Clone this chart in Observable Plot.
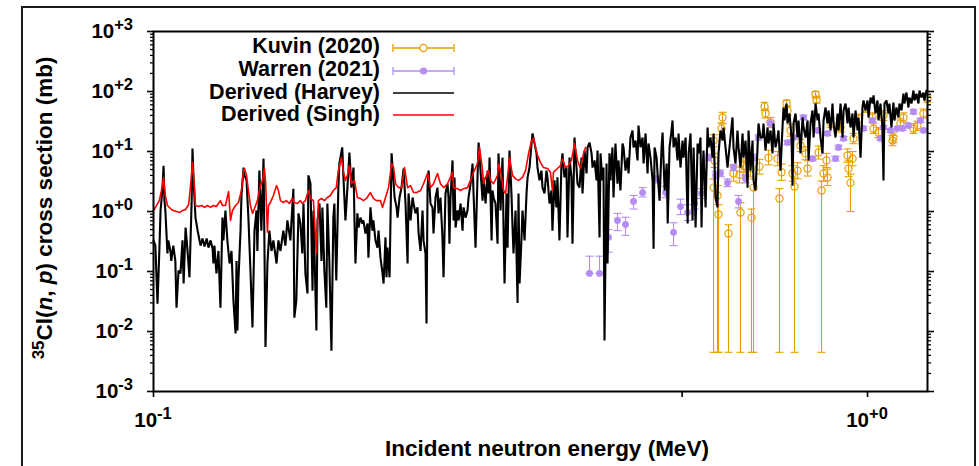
<!DOCTYPE html>
<html><head><meta charset="utf-8">
<script src="https://cdn.jsdelivr.net/npm/d3@7"></script>
<script src="https://cdn.jsdelivr.net/npm/@observablehq/plot@0.6"></script>
<style>
body{margin:0;background:#fff;}
#wrap{position:relative;width:979px;height:466px;overflow:hidden;background:#fff;}
#border{position:absolute;left:21px;top:6px;width:951px;height:600px;border:2px solid #1a1a1a;z-index:2;pointer-events:none;}
#chart svg{display:block;}
</style></head><body>
<div id="wrap"><div id="chart"></div><div id="border"></div></div>
<script>
// ---- data (energy in MeV, cross section in mb) ----
const xDomain = [0.1, 1.2134];
const yDomain = [1e-3, 1e3];
const yMajor = [1e-3, 1e-2, 1e-1, 1, 10, 100, 1000];
const yExp = ["-3", "-2", "-1", "+0", "+1", "+2", "+3"];
const xMajor = [0.1, 1];
const xExp = ["-1", "+0"];
const xMinor = [0.55];
const seriesNames = ["Kuvin (2020)", "Warren (2021)", "Derived (Harvey)", "Derived (Singh)"];

// Kuvin (2020): [E, xs, low, high]
const kuvin = [
[0.6087,2.5,0.0045,3.5],[0.6087,15.2,12,19],[0.6106,7.1,5.4,9.3],[0.6165,1.85,0.0045,2.7],
[0.6185,0.89,0.0045,1.3],[0.6245,24.2,19,30],[0.6265,36.9,29,45],[0.6387,0.43,0.0045,0.6],
[0.6491,4.3,3.2,5.8],[0.6618,4.1,3.0,5.5],[0.6639,0.96,0.0045,1.4],[0.6704,5.8,4.5,7.5],
[0.6748,5.4,4.0,7.0],[0.6857,5.2,3.8,7.0],[0.6879,0.79,0.0045,1.1],[0.6924,2.5,0.0045,3.5],
[0.7059,5.6,4.2,7.4],[0.7174,56,48,66],[0.7197,43,36,51],[0.7267,7.9,6.0,10.5],
[0.7314,30.4,25,37],[0.7481,7.6,5.8,10],[0.7528,1.65,0.0045,2.4],[0.7578,4.5,3.3,6.2],
[0.7701,63,55,72],[0.7726,48,40,57],[0.7801,22.4,18,28],[0.7852,4.3,3.2,5.8],
[0.7903,2.6,0.0045,3.6],[0.7980,4.8,3.5,6.5],[0.8057,12.6,10,16],[0.8189,9.3,7.3,12],
[0.8242,5.2,3.9,7.0],[0.8457,89,78,100],[0.8485,73,64,83],[0.8539,9.6,7.5,12.3],
[0.8622,2.24,0.0045,3.2],[0.8678,4.3,3.2,5.8],[0.8762,7.1,5.4,9.3],[0.8790,3.7,2.7,5.1],
[0.8876,30,25,36],[0.9167,25,21,30],[0.9376,8.6,6.6,11],[0.9406,5.2,3.8,7.0],
[0.9467,3.0,1.0,4.2],[0.9528,7.6,5.8,10],[0.9559,16.5,13.5,20],[0.9716,35,29,42],
[0.9936,52,45,60],[1.0162,37,31,44],[1.0195,24,20,29],[1.0360,20.7,17,25],
[1.0528,40,33,48],[1.0838,15.2,12.5,18.5],[1.0872,17.1,14,21],[1.1120,29.3,24.5,35],
[1.1229,37,31,44],[1.1597,24,20,29],[1.1748,27,22.5,32],[1.1977,43,36,51],[1.2130,76,66,87]
];

// Warren (2021): [E, xs, low, high]
const warren = [
[0.4080,0.093,0.093,0.18],[0.4214,0.093,0.093,0.18],[0.4338,0.37,0.21,0.50],[0.4465,0.71,0.48,0.93],
[0.4582,0.61,0.40,0.80],[0.4702,1.47,1.1,1.85],[0.4841,2.07,1.75,2.5],[0.5081,3.5,3.0,4.0],
[0.5216,2.07,1.7,2.6],[0.5350,0.45,0.27,0.65],[0.5471,1.21,0.89,1.6],[0.5599,0.96,0.71,1.3],
[0.5726,1.36,1.1,1.65],[0.5855,2.0,1.65,2.4],[0.5989,7.9,7,9],[0.6126,4.0,3.5,4.6],
[0.6224,4.3,3.8,4.9],[0.6367,3.0,2.6,3.5],[0.6491,5.4,4.8,6.1],[0.6597,1.47,1.15,1.85],
[0.6748,3.5,3.0,4.1],[0.6902,7.9,7,9],[0.7036,17.1,15.5,19],[0.7314,29.3,27,32],
[0.7726,14.1,13,15.3],[0.7878,17.1,16,18.5],[0.8136,37,34,40],[0.8375,7.6,7,8.3],
[0.8512,22.4,21,24],[0.8790,20,18.5,21.5],[0.9020,7.6,7,8.3],[0.9108,11.7,10.8,12.7],
[0.9256,16.5,15.3,17.8],[0.9559,29.3,27,32],[0.9872,24.2,22.5,26],[1.0162,32.9,30.5,35.5],
[1.0427,16.5,15.3,17.8],[1.0528,25.1,23.3,27],[1.0768,22.4,20.8,24],[1.1013,24.2,22.5,26],
[1.1193,24.2,22.5,26],[1.1411,27.1,25,29.3],[1.1597,46,42.5,49.5],[1.1862,32.9,30.5,35.5],
[1.1977,22.4,20.8,24]
];

// Derived (Harvey): [E, xs]
const harvey = [
[0.1000,0.33],[0.1006,0.27],[0.1013,0.029],[0.1019,0.22],[0.1023,1.04],[0.1029,2.24],[0.1033,5.8],[0.1036,1.52],
[0.1039,1.04],[0.1046,0.20],[0.1049,0.33],[0.1056,0.22],[0.1059,0.15],[0.1066,0.27],[0.1073,0.15],[0.1077,0.025],
[0.1084,0.104],[0.1091,0.093],[0.1098,0.33],[0.1102,0.063],[0.1109,0.54],[0.1116,0.22],[0.1123,0.08],[0.1131,1.52],
[0.1134,11.2],[0.1138,3.3],[0.1145,0.79],[0.1153,0.48],[0.1160,0.33],[0.1164,0.27],[0.1171,0.355],[0.1179,0.26],
[0.1187,0.355],[0.1194,0.25],[0.1202,0.33],[0.1210,0.24],[0.1213,0.136],[0.1217,0.27],[0.1225,0.093],[0.1233,0.22],
[0.1241,0.025],[0.1249,0.79],[0.1253,0.33],[0.1261,1.04],[0.1269,0.33],[0.1278,0.136],[0.1286,0.22],[0.1294,0.033],
[0.1303,0.0093],[0.1307,0.15],[0.1311,0.0104],[0.1315,0.071],[0.1324,0.48],[0.1328,1.85],[0.1337,5.4],[0.1341,4.0],
[0.1350,3.3],[0.1358,0.79],[0.1367,0.104],[0.1376,0.0117],[0.1385,0.48],[0.1394,1.04],[0.1398,0.22],[0.1407,4.8],
[0.1416,0.48],[0.1426,7.6],[0.1435,0.0055],[0.1444,0.136],[0.1453,0.48],[0.1463,0.22],[0.1472,0.33],[0.1487,0.136],
[0.1496,0.33],[0.1506,0.22],[0.1520,0.48],[0.1530,0.27],[0.1540,0.71],[0.1555,0.33],[0.1565,1.26],[0.1570,2.4],
[0.1575,0.017],[0.1585,0.033],[0.1596,0.93],
[0.1606,0.63],[0.1616,0.20],[0.1622,1.36],[0.1632,0.093],[0.1643,0.043],[0.1648,4.0],[0.1659,2.9],[0.1670,0.048],
[0.1675,1.04],[0.1691,0.0104],[0.1697,0.71],[0.1708,1.36],[0.1719,0.15],[0.1724,1.17],[0.1735,0.104],[0.1746,0.025],
[0.1752,1.36],[0.1763,0.15],[0.1775,0.0048],[0.1786,0.79],[0.1792,1.36],[0.1803,0.071],[0.1815,2.5],[0.1821,6.3],
[0.1838,11.7],[0.1844,4.3],[0.1857,0.71],[0.1869,2.5],[0.1881,9.6],[0.1893,2.5],[0.1906,5.4],[0.1912,0.71],
[0.1918,0.136],[0.1930,0.93],[0.1937,0.54],[0.1949,0.79],[0.1962,0.63],[0.1968,0.71],[0.1981,0.43],[0.1994,0.63],
[0.2000,0.17],[0.2013,1.17],[0.2026,0.48],[0.2032,0.71],[0.2046,0.33],[0.2059,0.25],[0.2066,0.48],[0.2079,0.17],
[0.2093,0.093],[0.2100,0.063],[0.2113,0.37],[0.2120,0.08],[0.2127,0.25],[0.2141,0.08],[0.2155,9.3],[0.2162,5.4],
[0.2176,1.71],[0.2190,1.17],[0.2197,0.79],[0.2211,1.71],[0.2225,2.5],[0.2240,5.2],[0.2254,1.36],[0.2269,0.136],
[0.2276,2.0],[0.2291,0.71],[0.2306,1.71],[0.2313,1.36],[0.2328,0.93],[0.2343,1.17],[0.2351,0.43],[0.2366,0.22],
[0.2381,1.04],[0.2389,0.33],[0.2404,0.20],[0.2412,0.0136],[0.2420,2.5],[0.2428,4.8],[0.2443,1.36],[0.2459,1.17],
[0.2467,0.43],[0.2483,1.71],[0.2499,2.5],[0.2507,0.93],[0.2523,1.71],[0.2539,0.37],[0.2548,0.08],[0.2564,2.0],
[0.2581,2.9],[0.2589,1.71],[0.2597,0.29],[0.2606,1.71],
[0.2623,7.1],[0.2632,0.71],[0.2640,3.7],[0.2649,0.54],[0.2666,1.04],[0.2675,0.71],[0.2692,1.36],[0.2709,0.48],
[0.2718,1.17],[0.2736,0.79],[0.2753,1.04],[0.2762,1.71],[0.2780,2.9],[0.2798,6.3],[0.2807,2.0],[0.2825,0.25],
[0.2843,3.7],[0.2853,14.1],[0.2871,4.8],[0.2890,1.52],[0.2899,3.7],[0.2918,1.36],[0.2937,4.8],[0.2946,2.0],
[0.2956,7.9],[0.2975,0.33],[0.2984,2.24],[0.2994,1.71],[0.3013,1.36],[0.3033,0.29],[0.3042,9.3],[0.3062,1.04],
[0.3082,7.9],[0.3092,0.54],[0.3102,0.063],[0.3122,2.0],[0.3132,0.25],[0.3152,10.4],[0.3172,2.0],[0.3183,0.54],
[0.3193,0.20],[0.3214,1.04],[0.3235,0.030],[0.3245,2.0],[0.3256,0.063],[0.3277,0.37],[0.3287,1.04],[0.3309,0.33],
[0.3330,2.0],[0.3341,3.7],[0.3362,5.4],[0.3384,13.6],[0.3395,20.0],[0.3417,13.6],[0.3439,9.3],[0.3450,5.4],
[0.3472,3.3],[0.3494,4.8],[0.3506,2.5],[0.3529,2.0],[0.3551,4.8],[0.3563,3.7],[0.3586,1.36],[0.3609,2.24],
[0.3620,0.48],[0.3644,3.3],[0.3667,1.17],[0.3679,3.7],[0.3703,0.33],[0.3727,6.3],[0.3739,9.3],[0.3763,3.7],
[0.3788,5.4],[0.3800,0.37],[0.3825,7.9],[0.3849,3.7],[0.3862,0.29],[0.3887,17.1],[0.3912,5.4],[0.3925,2.9],
[0.3950,2.5],[0.3976,7.9],[0.3989,2.0],[0.4015,10.4],[0.4041,4.3],[0.4054,11.7],[0.4080,14.1],[0.4107,9.3],
[0.4120,5.4],[0.4147,7.1],[0.4173,3.3],[0.4187,10.4],[0.4214,0.37],
[0.4227,9.3],[0.4254,3.3],[0.4268,5.4],[0.4282,0.0071],[0.4310,6.3],[0.4324,0.136],[0.4351,9.3],[0.4365,3.3],
[0.4393,11.7],[0.4408,1.71],[0.4436,13.6],[0.4465,2.9],[0.4479,7.1],[0.4508,2.24],[0.4538,13.6],[0.4553,11.7],
[0.4582,4.8],[0.4612,7.9],[0.4627,4.3],[0.4656,17.1],[0.4687,22.4],[0.4702,11.7],[0.4733,15.2],[0.4763,7.1],
[0.4778,27.1],[0.4809,11.7],[0.4841,17.1],[0.4857,6.3],[0.4888,20.0],[0.4920,4.3],[0.4935,13.6],[0.4967,7.9],
[0.5000,3.3],[0.5016,0.24],[0.5032,11.7],[0.5065,7.9],[0.5081,4.3],[0.5114,1.52],[0.5147,11.7],[0.5164,20.7],
[0.5198,2.24],[0.5233,6.3],[0.5250,0.63],[0.5281,11.7],[0.5315,22.4],[0.5332,32.9],[0.5350,11.7],[0.5385,17.1],
[0.5419,7.1],[0.5437,20.0],[0.5471,5.4],[0.5507,15.2],[0.5525,7.9],[0.5562,17.1],[0.5599,0.63],[0.5617,9.3],
[0.5651,20.0],[0.5688,0.71],[0.5707,11.7],[0.5744,0.54],[0.5781,13.6],[0.5800,9.3],[0.5836,17.1],[0.5855,0.54],
[0.5874,4.3],[0.5893,10.4],[0.5932,1.17],[0.5970,25.1],[0.5989,11.7],[0.6027,17.1],[0.6067,7.9],[0.6087,20.0],
[0.6126,1.71],[0.6165,1.17],[0.6185,9.3],[0.6224,22.4],[0.6265,15.2],[0.6285,25.1],[0.6326,11.7],[0.6367,5.4],
[0.6387,7.9],[0.6428,17.1],[0.6470,36.9],[0.6491,11.7],[0.6533,6.3],[0.6575,22.4],[0.6597,11.7],[0.6639,5.4],
[0.6683,20.0],[0.6704,7.9],[0.6748,15.2],[0.6792,2.5],[0.6814,22.4],[0.6857,4.8],[0.6902,15.2],[0.6924,3.3],
[0.6969,2.24],[0.7014,11.7],[0.7036,29.3],[0.7081,17.1],
[0.7127,17.1],[0.7150,29.3],[0.7197,10.4],[0.7244,25.1],[0.7267,13.6],[0.7314,22.4],[0.7361,9.3],[0.7385,29.3],
[0.7433,11.7],[0.7481,17.1],[0.7505,22.4],[0.7553,4.8],[0.7602,25.1],[0.7627,54.1],[0.7652,32.9],[0.7701,63.1],
[0.7726,29.3],[0.7776,43],[0.7827,17.1],[0.7852,2.7],[0.7878,29.3],[0.7929,43],[0.7980,17.1],[0.8006,32.9],
[0.8057,9.3],[0.8110,36.9],[0.8136,25.1],[0.8189,17.1],[0.8242,32.9],[0.8268,7.1],[0.8321,29.3],[0.8375,48.3],
[0.8403,17.1],[0.8457,63.1],[0.8512,32.9],[0.8539,43],[0.8594,17.1],[0.8650,9.3],[0.8678,32.9],[0.8734,54.1],
[0.8790,29.3],[0.8819,48.3],[0.8876,22.4],[0.8933,63.1],[0.8962,29.3],[0.9020,17.1],[0.9078,43],[0.9108,22.4],
[0.9167,63.1],[0.9226,17.1],[0.9256,48.3],[0.9316,63.1],[0.9376,29.3],[0.9406,54.1],[0.9467,25.1],[0.9528,43],
[0.9559,17.1],[0.9621,48.3],[0.9684,22.4],[0.9715,36.9],[0.9777,7.9],[0.9840,54.1],[0.9872,70.8],[0.9936,48.3],
[1.0000,70.8],[1.0032,36.9],[1.0097,79.4],[1.0162,63.1],[1.0195,85.8],[1.0261,43],[1.0327,70.8],[1.0360,32.9],
[1.0427,63.1],[1.0494,25.1],[1.0528,3.3],[1.0562,63.1],[1.0630,70.8],[1.0699,43],[1.0733,63.1],[1.0803,25.1],
[1.0872,65.6],[1.0908,32.9],[1.0978,54.1],[1.1049,36.9],[1.1085,63.1],[1.1157,48.3],[1.1229,92],[1.1265,63.1],
[1.1338,96],[1.1411,54.1],[1.1448,79.4],[1.1522,63.1],[1.1597,104],[1.1634,70.8],[1.1710,92],[1.1785,63.1],
[1.1823,104],[1.1900,79.4],[1.1977,96],[1.2016,70.8],[1.2093,104]
];

// Derived (Singh): [E, xs]
const singh = [
[0.1000,1.04],[0.1010,1.26],[0.1019,1.52],[0.1026,2.24],[0.1033,3.7],[0.1039,1.85],[0.1046,1.26],[0.1056,1.12],
[0.1066,1.04],[0.1077,1.0],[0.1088,0.96],[0.1098,1.04],[0.1109,1.08],[0.1120,1.31],[0.1127,2.7],[0.1134,6.6],
[0.1141,2.7],[0.1145,1.26],[0.1157,1.21],[0.1168,1.26],[0.1179,1.17],[0.1190,1.26],[0.1202,1.17],[0.1213,1.26],
[0.1225,1.21],[0.1241,1.52],[0.1249,1.26],[0.1261,1.26],[0.1274,2.15],[0.1282,0.71],[0.1290,1.04],[0.1303,1.26],
[0.1315,1.41],[0.1328,2.24],[0.1337,4.8],[0.1341,5.2],[0.1350,4.0],[0.1358,2.24],[0.1367,1.26],[0.1376,0.93],
[0.1385,1.12],[0.1398,1.52],[0.1412,2.7],[0.1421,3.3],[0.1430,5.2],[0.1435,3.3],[0.1444,0.45],[0.1449,1.26],
[0.1458,1.41],[0.1472,1.85],[0.1487,2.7],[0.1496,2.24],[0.1506,1.52],[0.1520,1.41],[0.1535,1.52],[0.1550,1.36],
[0.1565,1.65],[0.1575,1.41],[0.1590,1.36],[0.1606,1.52],[0.1616,1.36],[0.1632,1.52],[0.1648,2.24],[0.1659,1.65],
[0.1675,1.52],[0.1691,0.20],[0.1702,1.52],[0.1719,1.65],[0.1735,1.52],[0.1752,1.71],[0.1769,1.85],[0.1786,2.24],
[0.1803,2.5],[0.1815,4.8],[0.1833,7.9],[0.1844,4.8],[0.1857,3.3],[0.1869,4.0],[0.1881,5.8],[0.1893,2.9],
[0.1912,3.3],[0.1930,1.71],[0.1949,1.65],[0.1968,1.52],[0.1987,1.65],[0.2013,2.07],[0.2032,1.65],[0.2052,1.52],
[0.2079,1.52],[0.2093,1.17],[0.2113,1.71],[0.2134,2.5],[0.2155,6.3],[0.2169,5.4],[0.2183,2.9],[0.2204,2.5],
[0.2225,2.5],[0.2247,5.4],[0.2269,2.5],[0.2291,2.7],[0.2313,2.07],[0.2336,2.07],[0.2366,2.24],[0.2389,2.9],
[0.2420,4.3],[0.2443,2.5],[0.2467,2.9],[0.2499,4.3],[0.2523,2.9],[0.2548,2.5],[0.2581,2.9],[0.2623,4.5],
[0.2632,2.5],[0.2666,2.4],[0.2692,2.24],[0.2718,2.4],[0.2753,2.5],[0.2780,3.3],[0.2807,4.5],[0.2843,6.3],
[0.2862,11.7],[0.2890,4.8],[0.2899,2.9],[0.2918,3.7],[0.2946,4.8],[0.2965,3.3],[0.2994,2.9],[0.3033,4.0],
[0.3042,6.3],[0.3062,4.8],[0.3092,2.24],[0.3112,2.0],[0.3132,3.7],[0.3152,7.9],[0.3183,4.0],[0.3214,3.5],
[0.3245,3.3],[0.3287,3.7],[0.3320,4.8],[0.3352,9.3],[0.3384,15.2],[0.3406,16.5],[0.3428,11.7],[0.3450,8.6],
[0.3483,6.6],[0.3517,5.4],[0.3563,5.2],[0.3597,4.5],[0.3620,2.24],[0.3632,4.5],[0.3679,5.2],[0.3715,5.8],
[0.3739,7.6],[0.3776,5.4],[0.3812,5.8],[0.3849,7.1],[0.3887,13.6],[0.3925,7.1],[0.3963,5.2],[0.4002,9.3],
[0.4028,11.7]
];

// ---- chart ----
const orange = "#e69f00", purple = "#b48cf2", red = "#ff0000";
const yMinor = [];
for (const d of yMajor.slice(0, -1)) for (let m = 2; m <= 9; m++) yMinor.push(m * d);
const cap = {draw(ctx, size) { const r = Math.sqrt(size / Math.PI); ctx.moveTo(-r, 0); ctx.lineTo(r, 0); }};
const E = d => d[0], XS = d => d[1], LO = d => d[2], HI = d => d[3];
const blank = () => "";

const chart = Plot.plot({
  width: 979, height: 466,
  marginLeft: 153, marginRight: 52, marginTop: 31, marginBottom: 75,
  style: {background: "transparent", fontFamily: "'Liberation Sans', Arial, sans-serif", overflow: "visible"},
  x: {type: "log", domain: xDomain},
  y: {type: "log", domain: yDomain},
  marks: [
    Plot.ruleX(kuvin, {x: E, y1: LO, y2: HI, stroke: orange, strokeWidth: 1.1}),
    Plot.dot(kuvin, {x: E, y: LO, symbol: cap, r: 4, stroke: orange, fill: "none", strokeWidth: 1.1}),
    Plot.dot(kuvin, {x: E, y: HI, symbol: cap, r: 4, stroke: orange, fill: "none", strokeWidth: 1.1}),
    Plot.dot(kuvin, {x: E, y: XS, r: 3.6, stroke: orange, fill: "none", strokeWidth: 1.2}),
    Plot.ruleX(warren, {x: E, y1: LO, y2: HI, stroke: purple, strokeWidth: 1.1}),
    Plot.dot(warren, {x: E, y: LO, symbol: cap, r: 4, stroke: purple, fill: "none", strokeWidth: 1.1}),
    Plot.dot(warren, {x: E, y: HI, symbol: cap, r: 4, stroke: purple, fill: "none", strokeWidth: 1.1}),
    Plot.dot(warren, {x: E, y: XS, r: 3.4, fill: purple, stroke: "none"}),
    Plot.line(harvey, {x: E, y: XS, stroke: "black", strokeWidth: 2.1, strokeLinejoin: "miter"}),
    Plot.line(singh, {x: E, y: XS, stroke: red, strokeWidth: 1.6}),
    Plot.frame({stroke: "black", strokeWidth: 2}),
    Plot.axisY({anchor: "left", ticks: yMajor, tickSize: 6, tickFormat: blank, label: null, strokeWidth: 1.6}),
    Plot.axisY({anchor: "left", ticks: yMinor, tickSize: 3, tickFormat: blank, label: null, strokeWidth: 1.3}),
    Plot.axisY({anchor: "right", ticks: yMajor, tickSize: 6, tickFormat: blank, label: null, strokeWidth: 1.6}),
    Plot.axisY({anchor: "right", ticks: yMinor, tickSize: 3, tickFormat: blank, label: null, strokeWidth: 1.3}),
    Plot.axisX({anchor: "bottom", ticks: [...xMajor, ...xMinor], tickSize: 6, tickFormat: blank, label: null, strokeWidth: 1.6})
  ]
});
document.getElementById("chart").append(chart);

// ---- tick labels, titles, legend (real text) ----
const sx = chart.scale("x"), sy = chart.scale("y");
const svg = d3.select(chart);
const FONT = "'Liberation Sans', Arial, sans-serif";
const g = svg.append("g").attr("font-family", FONT).attr("font-weight", "bold").attr("fill", "black");

yMajor.forEach((v, i) => {
  const t = g.append("text").attr("x", 133).attr("y", sy.apply(v) + 7)
    .attr("text-anchor", "end").attr("font-size", 20.5);
  t.append("tspan").text("10");
  t.append("tspan").attr("dy", -8).attr("font-size", 16.5).text(yExp[i]);
});
xMajor.forEach((v, i) => {
  const t = g.append("text").attr("x", sx.apply(v)).attr("y", 427)
    .attr("text-anchor", "middle").attr("font-size", 20.5);
  t.append("tspan").text("10");
  t.append("tspan").attr("dy", -8).attr("font-size", 16.5).text(xExp[i]);
});

g.append("text").attr("x", 547).attr("y", 456).attr("text-anchor", "middle")
  .attr("font-size", 22.5).text("Incident neutron energy (MeV)");

const yt = g.append("text").attr("transform", "translate(52,208) rotate(-90)")
  .attr("text-anchor", "middle").attr("font-size", 22.5);
yt.append("tspan").attr("dy", -8).attr("font-size", 17).text("35");
yt.append("tspan").attr("dy", 8).text("Cl(");
yt.append("tspan").attr("font-style", "italic").text("n");
yt.append("tspan").text(", ");
yt.append("tspan").attr("font-style", "italic").text("p");
yt.append("tspan").text(") cross section (mb)");

// legend
const rows = [53, 76, 99, 121];
const lx1 = 393, lx2 = 454, lxm = 423.5;
seriesNames.forEach((name, i) => {
  g.append("text").attr("x", 380).attr("y", rows[i]).attr("text-anchor", "end")
    .attr("font-size", 21.5).text(name);
});
const lg = svg.append("g");
[[orange, "open"], [purple, "filled"]].forEach(([c, kind], i) => {
  const y = rows[i] - 5;
  lg.append("line").attr("x1", lx1).attr("x2", lx2).attr("y1", y).attr("y2", y).attr("stroke", c).attr("stroke-width", 1.3);
  lg.append("line").attr("x1", lx1).attr("x2", lx1).attr("y1", y - 4).attr("y2", y + 4).attr("stroke", c).attr("stroke-width", 1.3);
  lg.append("line").attr("x1", lx2).attr("x2", lx2).attr("y1", y - 4).attr("y2", y + 4).attr("stroke", c).attr("stroke-width", 1.3);
  if (kind === "open") lg.append("circle").attr("cx", lxm).attr("cy", y).attr("r", 3.6).attr("fill", "white").attr("stroke", c).attr("stroke-width", 1.3);
  else lg.append("circle").attr("cx", lxm).attr("cy", y).attr("r", 3.6).attr("fill", c);
});
[["black", 2], [red, 3]].forEach(([c, i]) => {
  const y = rows[i] - 6;
  lg.append("line").attr("x1", lx1).attr("x2", lx2).attr("y1", y).attr("y2", y).attr("stroke", c).attr("stroke-width", 1.6);
});
</script>
</body></html>
